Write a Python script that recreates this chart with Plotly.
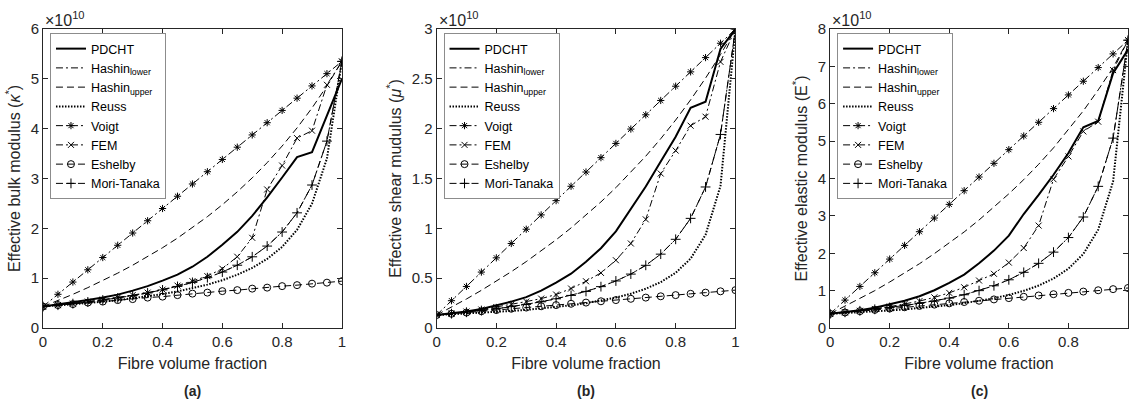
import plotly.graph_objects as go

# ---------------- data (values in units of 1e10 Pa) ----------------
fibre_fraction = [0.00, 0.05, 0.10, 0.15, 0.20, 0.25, 0.30, 0.35, 0.40, 0.45, 0.50,
                  0.55, 0.60, 0.65, 0.70, 0.75, 0.80, 0.85, 0.90, 0.95, 1.00]

series_names = ["PDCHT", "Hashin<sub>lower</sub>", "Hashin<sub>upper</sub>", "Reuss",
                "Voigt", "FEM", "Eshelby", "Mori-Tanaka"]

# (a) bulk modulus
pdcht_k = [0.43, 0.47, 0.51, 0.56, 0.61, 0.67, 0.75, 0.84, 0.95, 1.07, 1.23, 1.43, 1.67, 1.93, 2.25, 2.62, 3.02, 3.43, 3.53, 4.26, 5.00]
hslow_k = [0.430, 0.458, 0.489, 0.523, 0.561, 0.603, 0.650, 0.703, 0.764, 0.834, 0.915, 1.010, 1.123, 1.260, 1.429, 1.644, 1.926, 2.311, 2.869, 3.750, 5.350]
hsupp_k = [0.430, 0.550, 0.676, 0.810, 0.951, 1.101, 1.260, 1.430, 1.611, 1.804, 2.012, 2.234, 2.474, 2.733, 3.013, 3.318, 3.651, 4.015, 4.415, 4.858, 5.350]
reuss_k = [0.430, 0.451, 0.474, 0.499, 0.527, 0.558, 0.594, 0.634, 0.680, 0.734, 0.796, 0.870, 0.959, 1.069, 1.207, 1.386, 1.627, 1.970, 2.495, 3.403, 5.350]
voigt_k = [0.430, 0.676, 0.922, 1.168, 1.414, 1.660, 1.906, 2.152, 2.398, 2.644, 2.890, 3.136, 3.382, 3.628, 3.874, 4.120, 4.366, 4.612, 4.858, 5.104, 5.350]
fem_k = [0.43, 0.46, 0.49, 0.53, 0.57, 0.61, 0.66, 0.71, 0.77, 0.85, 0.94, 1.04, 1.19, 1.43, 1.81, 2.78, 3.26, 3.81, 3.96, 4.88, 5.35]
eshelby_k = [0.43, 0.46, 0.48, 0.51, 0.53, 0.56, 0.58, 0.61, 0.63, 0.66, 0.69, 0.71, 0.74, 0.76, 0.79, 0.81, 0.84, 0.86, 0.89, 0.91, 0.94]
mt_k = [0.430, 0.458, 0.489, 0.523, 0.561, 0.603, 0.650, 0.703, 0.764, 0.834, 0.915, 1.010, 1.123, 1.260, 1.429, 1.644, 1.926, 2.311, 2.869, 3.750, 5.350]

# (b) shear modulus
pdcht_g = [0.13, 0.145, 0.165, 0.19, 0.225, 0.265, 0.31, 0.375, 0.455, 0.545, 0.665, 0.80, 0.97, 1.19, 1.42, 1.67, 1.92, 2.21, 2.27, 2.80, 3.00]
hslow_g = [0.130, 0.144, 0.158, 0.175, 0.193, 0.214, 0.237, 0.263, 0.293, 0.327, 0.367, 0.415, 0.472, 0.541, 0.629, 0.741, 0.890, 1.100, 1.415, 1.942, 3.000]
hsupp_g = [0.130, 0.209, 0.291, 0.378, 0.469, 0.565, 0.666, 0.772, 0.885, 1.004, 1.131, 1.265, 1.408, 1.561, 1.724, 1.899, 2.087, 2.289, 2.507, 2.743, 3.000]
reuss_g = [0.130, 0.137, 0.144, 0.152, 0.161, 0.171, 0.182, 0.195, 0.211, 0.228, 0.249, 0.274, 0.305, 0.344, 0.394, 0.460, 0.554, 0.696, 0.935, 1.426, 3.000]
voigt_g = [0.130, 0.274, 0.417, 0.561, 0.704, 0.848, 0.991, 1.135, 1.278, 1.422, 1.565, 1.709, 1.852, 1.996, 2.139, 2.283, 2.426, 2.570, 2.713, 2.857, 3.000]
fem_g = [0.13, 0.145, 0.165, 0.185, 0.21, 0.235, 0.265, 0.295, 0.336, 0.396, 0.469, 0.553, 0.68, 0.848, 1.09, 1.55, 1.78, 2.03, 2.12, 2.67, 3.00]
eshelby_g = [0.130, 0.143, 0.155, 0.168, 0.180, 0.193, 0.205, 0.218, 0.230, 0.243, 0.255, 0.268, 0.280, 0.293, 0.305, 0.318, 0.330, 0.343, 0.355, 0.368, 0.380]
mt_g = [0.130, 0.144, 0.158, 0.175, 0.193, 0.214, 0.237, 0.263, 0.293, 0.327, 0.367, 0.415, 0.472, 0.541, 0.629, 0.741, 0.890, 1.100, 1.415, 1.942, 3.000]

# (c) elastic modulus
pdcht_e = [0.38, 0.42, 0.475, 0.54, 0.63, 0.73, 0.85, 1.01, 1.21, 1.43, 1.73, 2.07, 2.47, 3.05, 3.56, 4.10, 4.68, 5.37, 5.54, 6.82, 7.45]
hslow_e = [0.38, 0.42, 0.46, 0.50, 0.55, 0.60, 0.66, 0.72, 0.80, 0.89, 1.00, 1.13, 1.29, 1.49, 1.73, 2.03, 2.42, 2.97, 3.79, 5.08, 7.70]
hsupp_e = [0.38, 0.58, 0.79, 1.00, 1.23, 1.47, 1.72, 1.99, 2.27, 2.57, 2.89, 3.23, 3.59, 3.97, 4.38, 4.82, 5.30, 5.81, 6.37, 6.97, 7.70]
reuss_e = [0.380, 0.399, 0.420, 0.443, 0.469, 0.498, 0.532, 0.569, 0.613, 0.664, 0.724, 0.796, 0.885, 0.995, 1.136, 1.324, 1.587, 1.980, 2.631, 3.922, 7.700]
voigt_e = [0.380, 0.746, 1.112, 1.478, 1.844, 2.210, 2.576, 2.942, 3.308, 3.674, 4.040, 4.406, 4.772, 5.138, 5.504, 5.870, 6.236, 6.602, 6.968, 7.334, 7.700]
fem_e = [0.38, 0.42, 0.46, 0.51, 0.57, 0.64, 0.72, 0.82, 0.94, 1.09, 1.27, 1.45, 1.75, 2.14, 2.74, 3.98, 4.59, 5.26, 5.52, 6.90, 7.70]
eshelby_e = [0.380, 0.415, 0.450, 0.485, 0.520, 0.555, 0.590, 0.625, 0.660, 0.695, 0.730, 0.765, 0.800, 0.835, 0.870, 0.905, 0.940, 0.975, 1.010, 1.040, 1.070]
mt_e = [0.38, 0.42, 0.46, 0.50, 0.55, 0.60, 0.66, 0.72, 0.80, 0.89, 1.00, 1.13, 1.29, 1.49, 1.73, 2.03, 2.42, 2.97, 3.79, 5.08, 7.70]

panels = [
    dict(series=[pdcht_k, hslow_k, hsupp_k, reuss_k, voigt_k, fem_k, eshelby_k, mt_k],
         ytitle="Effective bulk modulus (<i>κ</i><sup>*</sup>)", yrange=[0, 6],
         yticks=[0, 1, 2, 3, 4, 5, 6], label="(a)"),
    dict(series=[pdcht_g, hslow_g, hsupp_g, reuss_g, voigt_g, fem_g, eshelby_g, mt_g],
         ytitle="Effective shear mudulus (<i>μ</i><sup>*</sup>)", yrange=[0, 3],
         yticks=[0, 0.5, 1, 1.5, 2, 2.5, 3], label="(b)"),
    dict(series=[pdcht_e, hslow_e, hsupp_e, reuss_e, voigt_e, fem_e, eshelby_e, mt_e],
         ytitle="Effective elastic modulus (E<sup>*</sup>)", yrange=[0, 8],
         yticks=[0, 1, 2, 3, 4, 5, 6, 7, 8], label="(c)"),
]
x_ticks = [0, 0.2, 0.4, 0.6, 0.8, 1]
x_ticklabels = ["0", "0.2", "0.4", "0.6", "0.8", "1"]

# ---------------- styles ----------------
DASHDOT = "7px,3px,2px,3px"
DASH = "7px,4px"
styles = [
    dict(mode="lines", line=dict(color="black", width=2, dash="solid"), marker=None),
    dict(mode="lines", line=dict(color="black", width=1, dash=DASHDOT), marker=None),
    dict(mode="lines", line=dict(color="black", width=1, dash=DASH), marker=None),
    dict(mode="lines", line=dict(color="black", width=2, dash="1.5px,1.5px"), marker=None),
    dict(mode="lines+markers", line=dict(color="black", width=1, dash=DASHDOT),
         marker=dict(symbol="asterisk-open", size=6, color="black", line=dict(color="black", width=1))),
    dict(mode="lines+markers", line=dict(color="black", width=1, dash=DASHDOT),
         marker=dict(symbol="x-thin-open", size=6, color="black", line=dict(color="black", width=1))),
    dict(mode="lines+markers", line=dict(color="black", width=1, dash=DASH),
         marker=dict(symbol="circle-open", size=7, color="black", line=dict(color="black", width=1))),
    dict(mode="lines+markers", line=dict(color="black", width=1, dash=DASH),
         marker=dict(symbol="cross-thin-open", size=7, color="black", line=dict(color="black", width=1))),
]

FONT = "Liberation Sans, Arial, sans-serif"
AX = "#262626"

W, H = 1132, 402
ML, MR, MT, MB = 43, 0, 29, 74
pw = W - ML - MR
left_px = [43, 438, 833]
right_px = [343, 738, 1132]
domains = [[(l - ML) / pw, (r - ML) / pw] for l, r in zip(left_px, right_px)]

fig = go.Figure()
layout = dict(
    width=W, height=H,
    margin=dict(l=ML, r=MR, t=MT, b=MB),
    paper_bgcolor="white", plot_bgcolor="white",
    font=dict(family=FONT, color=AX, size=15),
    annotations=[],
)

for i, p in enumerate(panels):
    sfx = "" if i == 0 else str(i + 1)
    legend_name = "legend" + sfx
    for name, ys, st in zip(series_names, p["series"], styles):
        kw = dict(x=fibre_fraction, y=ys, name=name, mode=st["mode"], line=st["line"],
                  xaxis="x" + sfx, yaxis="y" + sfx, legend=legend_name, showlegend=True,
                  hoverinfo="skip")
        if st["marker"] is not None:
            kw["marker"] = st["marker"]
        fig.add_trace(go.Scatter(**kw))

    layout["xaxis" + sfx] = dict(
        domain=domains[i], anchor="y" + sfx, range=[0, 1],
        tickvals=x_ticks, ticktext=x_ticklabels,
        ticks="inside", ticklen=5, tickcolor=AX, showline=True, linecolor=AX, linewidth=1,
        mirror="ticks", showgrid=False, zeroline=False,
        tickfont=dict(size=15, color=AX, family=FONT),
        title=dict(text="Fibre volume fraction", font=dict(size=16, color=AX, family=FONT), standoff=8),
    )
    layout["yaxis" + sfx] = dict(
        domain=[0, 1], anchor="x" + sfx, range=p["yrange"],
        tickvals=p["yticks"],
        ticks="inside", ticklen=5, tickcolor=AX, showline=True, linecolor=AX, linewidth=1,
        mirror="ticks", showgrid=False, zeroline=False,
        tickfont=dict(size=15, color=AX, family=FONT),
        title=dict(text=p["ytitle"], font=dict(size=16, color=AX, family=FONT), standoff=6),
    )
    layout[legend_name] = dict(
        x=(left_px[i] + 7 - ML) / pw, y=(328 - 33) / (H - MT - MB),
        xref="paper", yref="paper", xanchor="left", yanchor="top",
        bgcolor="white", bordercolor="#8c8c8c", borderwidth=1,
        font=dict(size=12.5, color="black", family=FONT),
        tracegroupgap=0, itemwidth=30,
    )
    layout["annotations"].append(dict(
        text="×10<sup>10</sup>", xref="x" + sfx + " domain", yref="y" + sfx + " domain",
        x=0, y=1, xanchor="left", yanchor="bottom", showarrow=False,
        font=dict(size=16, color=AX, family=FONT), xshift=0, yshift=-2))
    layout["annotations"].append(dict(
        text="<b>" + p["label"] + "</b>", xref="x" + sfx + " domain", yref="paper",
        x=0.5, y=(328 - 391) / (H - MT - MB), xanchor="center", yanchor="middle",
        showarrow=False, font=dict(size=14, color=AX, family=FONT)))

fig.update_layout(**layout)
fig.write_html("out.html")
